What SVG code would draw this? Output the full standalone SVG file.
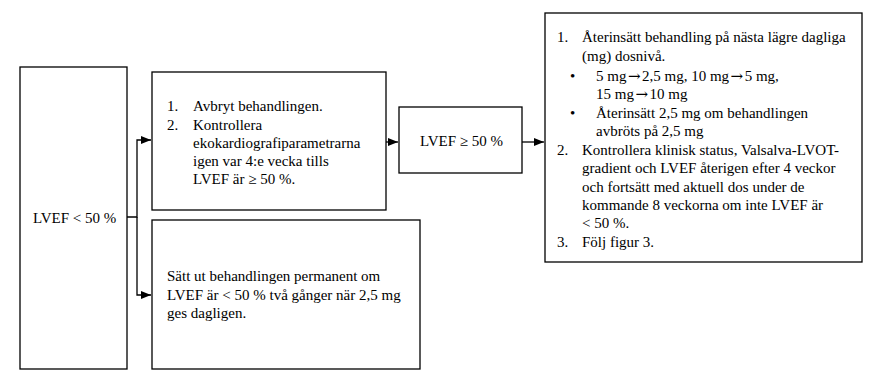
<svg xmlns="http://www.w3.org/2000/svg" width="880" height="387" viewBox="0 0 880 387">
<style>
.box{fill:#fff;stroke:#000;stroke-width:1.3}
.t{font-family:"Liberation Serif","Times New Roman",serif;font-size:15px;fill:#000}
.ar{font-family:"DejaVu Serif",serif;font-size:15px;letter-spacing:1.5px}
.c{fill:none;stroke:#000;stroke-width:1.3}
</style>
<defs>
<marker id="ah" markerWidth="10" markerHeight="8" refX="10" refY="4" orient="auto" markerUnits="userSpaceOnUse">
<path d="M0,0 L10,4 L0,8 Z" fill="#000"/>
</marker>
</defs>
<rect width="880" height="387" fill="#fff"/>
<g id="connectors">
<path class="c" d="M127,217 H137 V140 H151" marker-end="url(#ah)"/>
<path class="c" d="M137,217 V295 H151" marker-end="url(#ah)"/>
<path class="c" d="M386,142 H398" marker-end="url(#ah)"/>
<path class="c" d="M522,142 H544" marker-end="url(#ah)"/>
</g>
<g id="n1">
<rect class="box" x="20" y="67" width="107" height="302"/>
<text class="t" x="33" y="223">LVEF &lt; 50 %</text>
</g>
<g id="n2">
<rect class="box" x="152" y="72" width="234" height="138"/>
<text class="t" x="167" y="111">1.</text><text class="t" x="193" y="111">Avbryt behandlingen.</text>
<text class="t" x="167" y="130">2.</text><text class="t" x="193" y="130">Kontrollera</text>
<text class="t" x="193" y="148">ekokardiografiparametrarna</text>
<text class="t" x="193" y="166">igen var 4:e vecka tills</text>
<text class="t" x="193" y="184">LVEF är ≥ 50 %.</text>
</g>
<g id="n3">
<rect class="box" x="152" y="220" width="268" height="149"/>
<text class="t" x="167" y="281">Sätt ut behandlingen permanent om</text>
<text class="t" x="167" y="300">LVEF är &lt; 50 % två gånger när 2,5 mg</text>
<text class="t" x="167" y="318">ges dagligen.</text>
</g>
<g id="n4">
<rect class="box" x="399" y="107" width="123" height="66"/>
<text class="t" x="420" y="146">LVEF ≥ 50 %</text>
</g>
<g id="n5">
<rect class="box" x="545" y="13" width="317" height="249"/>
<text class="t" x="557" y="42">1.</text><text class="t" x="582" y="42">Återinsätt behandling på nästa lägre dagliga</text>
<text class="t" x="582" y="61">(mg) dosnivå.</text>
<text class="t" x="570" y="81">•</text><text class="t" x="596" y="81">5 mg<tspan class="ar" dx="1.5">→</tspan>2,5 mg, 10 mg<tspan class="ar" dx="1.5">→</tspan>5 mg,</text>
<text class="t" x="596" y="99">15 mg<tspan class="ar" dx="1.5">→</tspan>10 mg</text>
<text class="t" x="570" y="118">•</text><text class="t" x="596" y="118">Återinsätt 2,5 mg om behandlingen</text>
<text class="t" x="596" y="136">avbröts på 2,5 mg</text>
<text class="t" x="557" y="155">2.</text><text class="t" x="582" y="155">Kontrollera klinisk status, Valsalva-LVOT-</text>
<text class="t" x="582" y="173">gradient och LVEF återigen efter 4 veckor</text>
<text class="t" x="582" y="192">och fortsätt med aktuell dos under de</text>
<text class="t" x="582" y="210">kommande 8 veckorna om inte LVEF är</text>
<text class="t" x="582" y="228">&lt; 50 %.</text>
<text class="t" x="557" y="247">3.</text><text class="t" x="582" y="247">Följ figur 3.</text>
</g>
</svg>
